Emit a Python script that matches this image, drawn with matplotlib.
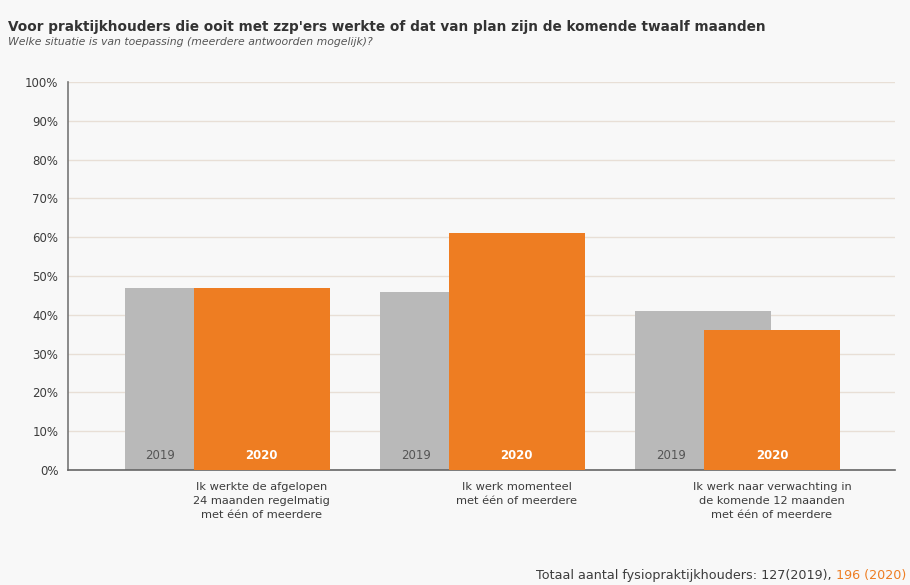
import matplotlib
matplotlib.use("Agg")
import matplotlib.pyplot as plt
import numpy as np

categories = ["Ik werkte de afgelopen\n24 maanden regelmatig\nmet één of meerdere",
              "Ik werk momenteel\nmet één of meerdere",
              "Ik werk naar verwachting in\nde komende 12 maanden\nmet één of meerdere"]
values_2019 = [47, 46, 41]
values_2020 = [47, 61, 36]
series = ["2019", "2020"]
yticks = [0, 10, 20, 30, 40, 50, 60, 70, 80, 90, 100]

BG = "#f8f8f8"
GRAY = "#b9b9b9"
ORANGE = "#ee7d22"
TXT = "#3c3c3c"
narrow = ["Liberation Sans Narrow", "DejaVu Sans"]

fig = plt.figure(figsize=(9.1, 5.85), dpi=100, facecolor=BG)
ax = fig.add_axes([0.0747, 0.1966, 0.9088, 0.6632])
ax.set_facecolor(BG)

x = np.arange(len(categories))
w = 0.533
off = 0.27
ax.bar(x - off, values_2019, width=w, color=GRAY, zorder=2)
ax.bar(x, values_2020, width=w, color=ORANGE, zorder=3)

for i in range(len(categories)):
    ax.text(i - w / 2 - off / 2 + 0.005, 3.8, series[0], ha="center", va="center",
            fontsize=8.5, color="#555555", family=narrow, zorder=4)
    ax.text(i, 3.8, series[1], ha="center", va="center", fontsize=8.5,
            color="white", fontweight="bold", family=narrow, zorder=4)

ax.set_xlim(-0.759, 2.482)
ax.set_ylim(0, 100)
ax.set_yticks(yticks)
ax.set_yticklabels([f"{t}%" for t in yticks], fontsize=8.5, color=TXT)
ax.set_xticks(x)
ax.set_xticklabels(categories, fontsize=8.2, color=TXT, family=narrow, linespacing=1.45)
ax.tick_params(axis="y", length=0, pad=7)
ax.tick_params(axis="x", length=0, pad=9)
ax.grid(axis="y", color="#e8dfd6", linewidth=1, zorder=0)
for s in ["top", "right"]:
    ax.spines[s].set_visible(False)
ax.spines["left"].set_color("#777777")
ax.spines["left"].set_linewidth(1.2)
ax.spines["bottom"].set_color("#666666")
ax.spines["bottom"].set_linewidth(1.2)

fig.text(8 / 910, 1 - 27 / 585, "Voor praktijkhouders die ooit met zzp'ers werkte of dat van plan zijn de komende twaalf maanden",
         fontsize=9.8, fontweight="bold", color="#333333", va="center", ha="left")
fig.text(8 / 910, 1 - 42 / 585, "Welke situatie is van toepassing (meerdere antwoorden mogelijk)?",
         fontsize=7.8, style="italic", color="#555555", va="center", ha="left")

t2 = fig.text(906 / 910, 1 - 575 / 585, "196 (2020)", fontsize=9.2, color=ORANGE,
              family=narrow, va="center", ha="right")
fig.canvas.draw()
bb = t2.get_window_extent()
fig.text(bb.x0 / 910, 1 - 575 / 585, "Totaal aantal fysiopraktijkhouders: 127(2019), ",
         fontsize=9.2, color=TXT, family=narrow, va="center", ha="right")

fig.savefig("out.png", dpi=100, facecolor=BG)
